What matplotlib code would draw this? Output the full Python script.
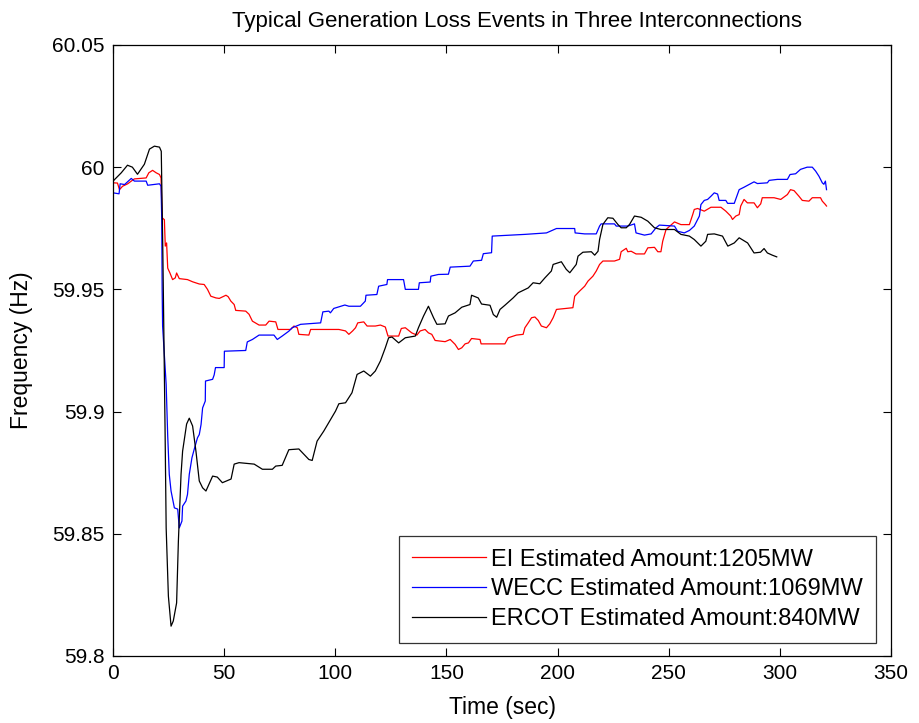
import matplotlib
matplotlib.use("Agg")
import matplotlib.pyplot as plt

# ERCOT event: time (s) and frequency (Hz)
ercot_t = [0, 3.7, 6.5, 8.7, 11.0, 14.1, 16.4, 18.6, 20.9, 21.7, 22.4, 23.4, 23.9, 24.9,
           26.1, 27.1, 28.6, 29.4, 30.6, 31.3, 33.1, 34.3, 35.8, 37.3, 38.8, 40.3, 41.8,
           44.8, 46.9, 49.2, 53.1, 54.5, 56.7, 63.5, 67.2, 71.7, 73.2, 76.1, 79.1, 83.6,
           88.1, 89.6, 91.8, 94.8, 100.1, 101.6, 104.6, 107.5, 109.8, 112.8, 115.8, 118.0,
           120.3, 122.5, 124.0, 125.5, 128.5, 131.5, 136.0, 137.4, 139.7, 141.9, 144.2,
           145.7, 149.4, 150.9, 153.9, 156.9, 160.6, 161.3, 164.3, 165.8, 169.6, 171.1,
           172.6, 174.1, 176.3, 180.0, 182.3, 186.8, 189.0, 192.0, 194.3, 197.2, 198.0,
           201.7, 203.9, 205.5, 208.4, 209.2, 211.4, 215.2, 216.7, 218.2, 218.9, 220.4,
           222.6, 224.9, 227.1, 228.6, 230.9, 232.4, 234.6, 237.6, 240.6, 243.6, 246.5,
           252.6, 255.5, 259.3, 261.5, 264.5, 266.7, 267.5, 270.5, 274.2, 276.6, 279.5,
           281.7, 285.5, 288.4, 291.3, 292.9, 294.4, 296.6, 298.6]
ercot_f = [59.9943, 59.9977, 60.0008, 60.0000, 59.9971, 60.0012, 60.0074, 60.0086, 60.0082,
           60.0065, 59.9656, 59.8933, 59.8524, 59.8245, 59.8122, 59.8143, 59.8217, 59.8470,
           59.8744, 59.8838, 59.8949, 59.8973, 59.8941, 59.8838, 59.8716, 59.8688, 59.8675,
           59.8736, 59.8732, 59.8709, 59.8724, 59.8785, 59.8791, 59.8785, 59.8764, 59.8764,
           59.8777, 59.8780, 59.8844, 59.8847, 59.8804, 59.8800, 59.8879, 59.8920, 59.9002,
           59.9032, 59.9036, 59.9077, 59.9152, 59.9166, 59.9145, 59.9166, 59.9207, 59.9261,
           59.9302, 59.9305, 59.9281, 59.9302, 59.9309, 59.9343, 59.9391, 59.9431, 59.9384,
           59.9357, 59.9359, 59.9391, 59.9404, 59.9427, 59.9438, 59.9476, 59.9465, 59.9440,
           59.9435, 59.9397, 59.9386, 59.9418, 59.9435, 59.9465, 59.9486, 59.9506, 59.9527,
           59.9523, 59.9547, 59.9575, 59.9602, 59.9613, 59.9582, 59.9568, 59.9602, 59.9636,
           59.9652, 59.9654, 59.9640, 59.9656, 59.9704, 59.9766, 59.9793, 59.9791, 59.9766,
           59.9752, 59.9752, 59.9766, 59.9800, 59.9795, 59.9779, 59.9752, 59.9745, 59.9745,
           59.9725, 59.9718, 59.9704, 59.9677, 59.9697, 59.9725, 59.9727, 59.9718, 59.9677,
           59.9690, 59.9711, 59.9690, 59.9649, 59.9652, 59.9667, 59.9649, 59.9640, 59.9633]

# WECC event
wecc_t = [0, 2.7, 3.2, 5.2, 8.2, 9.6, 14.9, 15.6, 20.9, 21.6, 21.9, 22.1, 22.3, 23.9, 24.6,
          25.3, 26.1, 27.6, 29.1, 29.8, 31.0, 31.3, 32.8, 33.5, 34.3, 35.5, 36.5, 38.0,
          38.8, 39.6, 40.3, 41.5, 41.6, 44.8, 45.5, 46.1, 50.0, 50.1, 59.7, 60.4, 62.7,
          65.7, 72.4, 73.9, 76.1, 79.1, 80.6, 84.4, 93.4, 94.4, 97.1, 97.8, 99.3, 104.3,
          106.1, 111.3, 113.5, 113.8, 118.7, 119.5, 123.2, 123.5, 130.7, 131.5, 137.4,
          137.8, 142.7, 143.0, 146.4, 150.9, 151.7, 160.6, 162.1, 165.8, 166.6, 170.3,
          170.6, 185.3, 195.0, 199.5, 207.7, 207.9, 212.2, 217.4, 218.9, 219.6, 225.6,
          226.4, 231.6, 234.6, 235.3, 239.1, 242.1, 244.3, 245.8, 252.6, 254.0, 257.0,
          259.3, 261.5, 263.8, 264.5, 266.0, 267.5, 269.0, 270.5, 272.0, 272.7, 275.7,
          276.5, 279.5, 280.9, 281.7, 283.9, 286.2, 288.4, 289.9, 294.4, 295.2, 298.9,
          303.4, 304.6, 307.1, 309.3, 312.3, 314.6, 316.1, 317.6, 319.1, 319.8, 320.5, 321.0]
wecc_f = [59.9895, 59.9891, 59.9932, 59.9929, 59.9954, 59.9943, 59.9943, 59.9926, 59.9932,
          59.9922, 59.9793, 59.9500, 59.9350, 59.9111, 59.8900, 59.8743, 59.8675, 59.8606,
          59.8601, 59.8524, 59.8552, 59.8613, 59.8634, 59.8661, 59.8743, 59.8811, 59.8845,
          59.8893, 59.8906, 59.8947, 59.9015, 59.9043, 59.9125, 59.9132, 59.9150, 59.9180,
          59.9180, 59.9247, 59.9250, 59.9285, 59.9295, 59.9313, 59.9313, 59.9295, 59.9309,
          59.9329, 59.9343, 59.9357, 59.9363, 59.9408, 59.9411, 59.9404, 59.9422, 59.9436,
          59.9431, 59.9431, 59.9452, 59.9476, 59.9479, 59.9513, 59.9520, 59.9540, 59.9540,
          59.9500, 59.9500, 59.9527, 59.9530, 59.9554, 59.9561, 59.9562, 59.9591, 59.9595,
          59.9616, 59.9619, 59.9646, 59.9650, 59.9718, 59.9725, 59.9731, 59.9749, 59.9749,
          59.9731, 59.9727, 59.9727, 59.9759, 59.9768, 59.9768, 59.9759, 59.9759, 59.9768,
          59.9731, 59.9722, 59.9727, 59.9752, 59.9763, 59.9759, 59.9738, 59.9731, 59.9741,
          59.9759, 59.9800, 59.9847, 59.9864, 59.9868, 59.9881, 59.9895, 59.9890, 59.9864,
          59.9864, 59.9852, 59.9852, 59.9888, 59.9908, 59.9918, 59.9929, 59.9940, 59.9933,
          59.9936, 59.9946, 59.9950, 59.9950, 59.9970, 59.9973, 59.9991, 60.0000, 60.0000,
          59.9984, 59.9963, 59.9936, 59.9930, 59.9943, 59.9908]

# EI event
ei_t = [0, 2.0, 2.9, 4.3, 6.6, 8.2, 9.6, 14.9, 16.1, 17.8, 19.4, 20.9, 21.6, 22.1, 23.1,
        23.5, 24.1, 24.6, 25.6, 26.8, 28.0, 28.6, 29.8, 33.5, 35.8, 38.8, 41.0, 42.5, 44.0,
        46.3, 47.8, 50.8, 51.8, 53.0, 54.5, 55.2, 59.7, 61.2, 62.7, 65.7, 68.7, 70.2, 73.2,
        74.2, 79.9, 81.4, 82.9, 83.6, 88.1, 88.9, 101.6, 104.6, 106.1, 107.8, 109.1, 110.1,
        112.8, 114.3, 118.0, 120.3, 122.5, 123.7, 128.5, 129.7, 131.5, 134.4, 136.7, 138.2,
        140.4, 141.9, 143.4, 144.9, 149.4, 151.7, 153.9, 155.4, 156.9, 158.4, 159.9, 161.3,
        165.1, 165.6, 176.3, 177.8, 181.5, 184.5, 185.3, 186.8, 188.3, 189.8, 191.3, 192.7,
        195.0, 196.5, 198.0, 199.5, 206.9, 207.7, 209.9, 212.2, 213.7, 215.9, 217.4, 218.9,
        220.4, 225.6, 227.9, 228.6, 230.9, 231.6, 233.1, 235.3, 239.1, 240.6, 243.6, 245.1,
        246.5, 247.3, 248.8, 252.6, 255.5, 259.3, 260.8, 261.5, 263.0, 266.0, 269.0, 273.5,
        275.7, 277.9, 278.7, 280.2, 281.7, 282.4, 283.9, 285.4, 288.4, 289.9, 291.4, 292.1,
        297.4, 300.4, 303.4, 304.8, 306.4, 308.6, 310.1, 313.1, 314.6, 318.3, 319.1, 320.5,
        321.0]
ei_f = [59.9936, 59.9935, 59.9908, 59.9922, 59.9932, 59.9943, 59.9952, 59.9956, 59.9977,
        59.9987, 59.9977, 59.9970, 59.9956, 59.9793, 59.9785, 59.9677, 59.9690, 59.9587,
        59.9567, 59.9540, 59.9547, 59.9567, 59.9544, 59.9540, 59.9531, 59.9522, 59.9520,
        59.9500, 59.9472, 59.9465, 59.9463, 59.9476, 59.9470, 59.9452, 59.9438, 59.9414,
        59.9411, 59.9398, 59.9370, 59.9354, 59.9354, 59.9370, 59.9367, 59.9336, 59.9336,
        59.9350, 59.9343, 59.9316, 59.9313, 59.9336, 59.9336, 59.9330, 59.9316, 59.9330,
        59.9343, 59.9363, 59.9367, 59.9350, 59.9350, 59.9354, 59.9346, 59.9309, 59.9309,
        59.9340, 59.9343, 59.9322, 59.9313, 59.9330, 59.9336, 59.9322, 59.9316, 59.9291,
        59.9286, 59.9295, 59.9275, 59.9254, 59.9261, 59.9277, 59.9281, 59.9299, 59.9295,
        59.9277, 59.9277, 59.9302, 59.9313, 59.9316, 59.9343, 59.9363, 59.9384, 59.9387,
        59.9373, 59.9350, 59.9343, 59.9359, 59.9384, 59.9418, 59.9425, 59.9472, 59.9493,
        59.9513, 59.9534, 59.9554, 59.9575, 59.9602, 59.9616, 59.9616, 59.9623, 59.9654,
        59.9668, 59.9654, 59.9656, 59.9645, 59.9645, 59.9670, 59.9672, 59.9654, 59.9654,
        59.9697, 59.9745, 59.9776, 59.9765, 59.9765, 59.9806, 59.9827, 59.9831, 59.9820,
        59.9836, 59.9836, 59.9820, 59.9800, 59.9786, 59.9800, 59.9806, 59.9841, 59.9868,
        59.9854, 59.9854, 59.9834, 59.9850, 59.9875, 59.9875, 59.9868, 59.9888, 59.9908,
        59.9904, 59.9881, 59.9864, 59.9861, 59.9875, 59.9875, 59.9861, 59.9847, 59.9841]

series_labels = ["EI Estimated Amount:1205MW",
                 "WECC Estimated Amount:1069MW",
                 "ERCOT Estimated Amount:840MW"]
x_ticks = [0, 50, 100, 150, 200, 250, 300, 350]
y_ticks = [59.8, 59.85, 59.9, 59.95, 60.0, 60.05]
y_tick_labels = ["59.8", "59.85", "59.9", "59.95", "60", "60.05"]

plt.rcParams["font.family"] = ["Liberation Sans", "DejaVu Sans"]

fig = plt.figure(figsize=(9.19, 7.23), dpi=100)
ax = fig.add_axes([0.123, 0.0927, 0.8465, 0.8451])

ax.plot(ei_t, ei_f, color="#ff0000", lw=0.9, label=series_labels[0])
ax.plot(wecc_t, wecc_f, color="#0000ff", lw=0.9, label=series_labels[1])
ax.plot(ercot_t, ercot_f, color="#000000", lw=0.9, label=series_labels[2])

ax.set_xlim(0, 350)
ax.set_ylim(59.8, 60.05)
ax.set_xticks(x_ticks)
ax.set_yticks(y_ticks)
ax.set_yticklabels(y_tick_labels)
ax.tick_params(direction="in", top=True, right=True, length=6, width=0.8,
               labelsize=15, pad=6)
for s in ax.spines.values():
    s.set_linewidth(0.9)

ax.set_xlabel("Time (sec)", fontsize=16.5, labelpad=9)
ax.set_ylabel("Frequency (Hz)", fontsize=16.5, labelpad=14)
ax.set_title("Typical Generation Loss Events in Three Interconnections",
             fontsize=16, pad=13, x=0.519)

leg = ax.legend(loc="lower right", fontsize=17, frameon=True, fancybox=False,
                edgecolor="black", handlelength=3.1, handletextpad=0.25,
                borderpad=0.55, labelspacing=0.33, borderaxespad=0,
                bbox_to_anchor=(0.981, 0.021))
leg.get_frame().set_linewidth(0.9)
for line in leg.get_lines():
    line.set_linewidth(0.9)

fig.savefig("out.png", dpi=100, facecolor="white")
